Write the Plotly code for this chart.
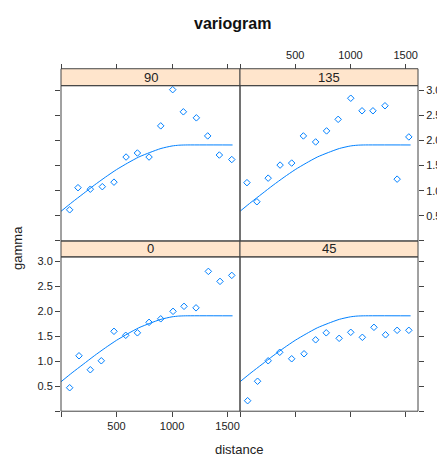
import plotly.graph_objects as go

# ---- data ----
panels = ["0", "45", "90", "135"]

dist_0 = [78, 162, 264, 363, 477, 583, 688, 793, 898, 1009, 1108, 1216, 1327, 1432, 1538]
gamma_0 = [0.47, 1.11, 0.83, 1.01, 1.60, 1.52, 1.57, 1.78, 1.85, 2.00, 2.10, 2.07, 2.80, 2.60, 2.72]

dist_45 = [69, 159, 255, 360, 468, 580, 685, 781, 898, 1003, 1108, 1213, 1318, 1423, 1529]
gamma_45 = [0.21, 0.60, 1.01, 1.18, 1.05, 1.15, 1.43, 1.57, 1.46, 1.58, 1.48, 1.68, 1.53, 1.62, 1.62]

dist_90 = [78, 153, 264, 372, 477, 586, 688, 793, 898, 1006, 1102, 1219, 1321, 1426, 1538]
gamma_90 = [0.62, 1.06, 1.03, 1.08, 1.17, 1.67, 1.75, 1.67, 2.29, 3.01, 2.57, 2.45, 2.09, 1.71, 1.62]

dist_135 = [63, 153, 255, 363, 468, 574, 685, 784, 889, 1003, 1105, 1204, 1313, 1423, 1529]
gamma_135 = [1.16, 0.78, 1.25, 1.51, 1.55, 2.09, 1.97, 2.19, 2.42, 2.84, 2.59, 2.59, 2.69, 1.23, 2.07]

# fitted model line (same in every panel)
model_dist = [0, 100, 200, 300, 400, 500, 600, 700, 800, 900, 1000, 1060, 1120, 1545]
model_gamma = [0.59, 0.77, 0.94, 1.11, 1.27, 1.42, 1.55, 1.67, 1.76, 1.84, 1.89, 1.905, 1.91, 1.91]

x_ticks = [0, 500, 1000, 1500]
x_ticktext = ["", "500", "1000", "1500"]
y_ticks = [0, 0.5, 1.0, 1.5, 2.0, 2.5, 3.0]
y_ticktext = ["", "0.5", "1.0", "1.5", "2.0", "2.5", "3.0"]

# ---- layout geometry ----
OFF = 8                      # page body margin offset
W, H = 445 - OFF, 458 - OFF


def fx(px):
    return (px - OFF) / W


def fy(py):
    return 1 - (py - OFF) / H


xL0, xM, xR1 = fx(61), fx(240), fx(418)
yB0 = fy(411)     # bottom of bottom panel
yB1 = fy(256)     # top of bottom panel
yS1 = fy(240)     # top of bottom strip
yT1 = fy(84)      # top of top panel
yS2 = fy(67)      # top of top strip

XR = [0, 1612]
YR = [0, 3.09]
BLUE = "#0080ff"
AX = "#444444"
FONT = "Liberation Sans, Arial, sans-serif"

series = {
    "0": (dist_0, gamma_0, "x", "y"),
    "45": (dist_45, gamma_45, "x2", "y2"),
    "90": (dist_90, gamma_90, "x3", "y3"),
    "135": (dist_135, gamma_135, "x4", "y4"),
}

fig = go.Figure()
for name in panels:
    d, g, xa, ya = series[name]
    fig.add_trace(go.Scatter(x=d, y=g, mode="markers", xaxis=xa, yaxis=ya,
                             marker=dict(symbol="diamond-open", size=5, color=BLUE,
                                         line=dict(width=1, color=BLUE)),
                             showlegend=False, hoverinfo="skip"))
    fig.add_trace(go.Scatter(x=model_dist, y=model_gamma, mode="lines", xaxis=xa, yaxis=ya,
                             line=dict(color=BLUE, width=1, shape="spline", smoothing=0.6),
                             showlegend=False, hoverinfo="skip"))


def xax(domain, labels, **kw):
    return dict(domain=domain, range=XR, tickvals=x_ticks,
                ticktext=x_ticktext if labels else [""] * 4,
                ticks="outside", ticklen=5, tickcolor=AX, tickwidth=1,
                showgrid=False, zeroline=False, showline=False,
                tickfont=dict(size=11, color="#222", family=FONT), **kw)


def yax(domain, labels, **kw):
    return dict(domain=domain, range=YR, tickvals=y_ticks,
                ticktext=y_ticktext if labels else [""] * 7,
                ticks="outside", ticklen=5, tickcolor=AX, tickwidth=1,
                showgrid=False, zeroline=False, showline=False,
                tickfont=dict(size=11, color="#222", family=FONT), **kw)


fig.update_layout(
    width=W, height=H,
    margin=dict(l=0, r=0, t=0, b=0),
    paper_bgcolor="white", plot_bgcolor="white",
    font=dict(family=FONT, color="#222"),
    xaxis=xax([xL0, xM], True, anchor="y"),
    yaxis=yax([yB0, yB1], True, anchor="x", side="left"),
    xaxis2=xax([xM, xR1], False, anchor="y2"),
    yaxis2=yax([yB0, yB1], False, anchor="x2", side="right"),
    xaxis3=xax([xL0, xM], False, anchor="free", position=yS2, side="top"),
    yaxis3=yax([yS1, yT1], False, anchor="x3", side="left"),
    xaxis4=xax([xM, xR1], True, anchor="free", position=yS2, side="top"),
    yaxis4=yax([yS1, yT1], True, anchor="x4", side="right"),
)

shapes = []
# strips
for (x0, x1, y0, y1) in [(xL0, xM, yB1, yS1), (xM, xR1, yB1, yS1),
                         (xL0, xM, yT1, yS2), (xM, xR1, yT1, yS2)]:
    shapes.append(dict(type="rect", xref="paper", yref="paper", x0=x0, x1=x1, y0=y0, y1=y1,
                       fillcolor="#FFE5CC", line=dict(color=AX, width=1), layer="below"))
# panel frames
for (x0, x1, y0, y1) in [(xL0, xM, yB0, yB1), (xM, xR1, yB0, yB1),
                         (xL0, xM, yS1, yT1), (xM, xR1, yS1, yT1)]:
    shapes.append(dict(type="rect", xref="paper", yref="paper", x0=x0, x1=x1, y0=y0, y1=y1,
                       fillcolor="rgba(0,0,0,0)", line=dict(color=AX, width=1)))
fig.update_layout(shapes=shapes)

ann = []
strip_pos = {"0": ((xL0 + xM) / 2, (yB1 + yS1) / 2), "45": ((xM + xR1) / 2, (yB1 + yS1) / 2),
             "90": ((xL0 + xM) / 2, (yT1 + yS2) / 2), "135": ((xM + xR1) / 2, (yT1 + yS2) / 2)}
for name in panels:
    sx, sy = strip_pos[name]
    ann.append(dict(text=name, x=sx, y=sy, xref="paper", yref="paper", showarrow=False,
                    font=dict(size=13, color="#222", family=FONT), xanchor="center", yanchor="middle"))
ann.append(dict(text="<b>variogram</b>", x=fx(232), y=fy(22), xref="paper", yref="paper",
                showarrow=False, font=dict(size=16, color="#111", family=FONT),
                xanchor="center", yanchor="middle"))
ann.append(dict(text="gamma", x=fx(18), y=fy(247), xref="paper", yref="paper",
                showarrow=False, textangle=-90, font=dict(size=13, color="#222", family=FONT),
                xanchor="center", yanchor="middle"))
ann.append(dict(text="distance", x=fx(239), y=fy(449), xref="paper", yref="paper",
                showarrow=False, font=dict(size=13, color="#222", family=FONT),
                xanchor="center", yanchor="middle"))
ann.append(dict(text="<b>A</b>", x=fx(436), y=fy(22), xref="paper", yref="paper",
                showarrow=False, font=dict(size=30, color="#333", family=FONT),
                xanchor="left", yanchor="middle"))
fig.update_layout(annotations=ann)

fig.write_html("out.html")
